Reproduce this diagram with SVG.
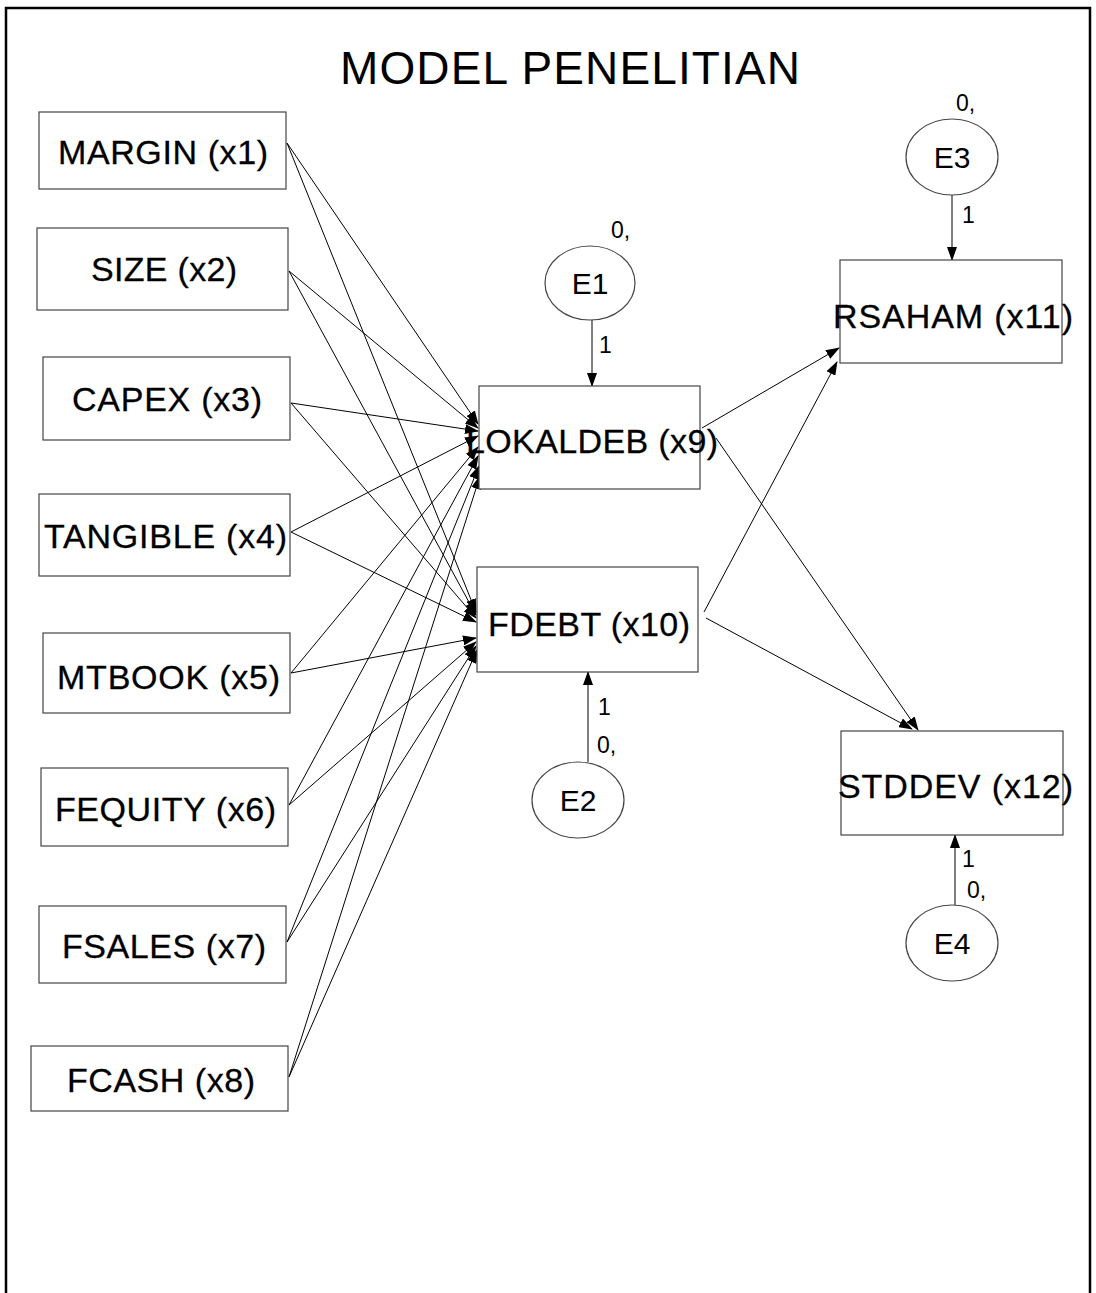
<svg xmlns="http://www.w3.org/2000/svg" width="1096" height="1293" viewBox="0 0 1096 1293">
  <defs>
    <marker id="arrow" markerUnits="userSpaceOnUse" markerWidth="14" markerHeight="10" refX="13" refY="5" orient="auto">
      <path d="M0,0 L14,5 L0,10 Z" fill="#000"/>
    </marker>
  </defs>
  <style>
    .frame { fill: none; stroke: #000; stroke-width: 2.5; }
    .box { fill: #fff; stroke: #444; stroke-width: 1.2; }
    .err { fill: #fff; stroke: #444; stroke-width: 1.2; }
    .lbl { font-family: "Liberation Sans", Arial, sans-serif; font-size: 34px; fill: #000; stroke: #000; stroke-width: 0.3; }
    .elbl { font-family: "Liberation Sans", Arial, sans-serif; font-size: 30px; fill: #000; text-anchor: middle; }
    .small { font-family: "Liberation Sans", Arial, sans-serif; font-size: 23px; fill: #000; }
    .title { font-family: "Liberation Sans", Arial, sans-serif; font-size: 46px; fill: #000; }
    .path { fill: none; stroke: #000; stroke-width: 1; marker-end: url(#arrow); }
  </style>

  <rect width="1096" height="1293" fill="#fff"/>
  <!-- page frame (open at the bottom) -->
  <path class="frame" d="M6,1293 V8 H1090 V1293"/>

  <text class="title" x="340" y="84" textLength="460">MODEL PENELITIAN</text>

  <!-- connectors -->
  <g id="connectors">
    <!-- exogenous variables to LOKALDEB -->
    <line class="path" x1="287" y1="143" x2="478" y2="424"/>
    <line class="path" x1="289" y1="271" x2="478" y2="428"/>
    <line class="path" x1="291" y1="403" x2="478" y2="431"/>
    <line class="path" x1="291" y1="532" x2="478" y2="436"/>
    <line class="path" x1="291" y1="673" x2="478" y2="447"/>
    <line class="path" x1="289" y1="805" x2="478" y2="456"/>
    <line class="path" x1="287" y1="942" x2="479" y2="466"/>
    <line class="path" x1="289" y1="1077" x2="480" y2="476"/>
    <!-- exogenous variables to FDEBT -->
    <line class="path" x1="287" y1="143" x2="476" y2="612"/>
    <line class="path" x1="289" y1="271" x2="476" y2="615"/>
    <line class="path" x1="291" y1="403" x2="476" y2="618"/>
    <line class="path" x1="291" y1="532" x2="476" y2="622"/>
    <line class="path" x1="291" y1="673" x2="476" y2="638"/>
    <line class="path" x1="289" y1="805" x2="476" y2="642"/>
    <line class="path" x1="287" y1="942" x2="476" y2="646"/>
    <line class="path" x1="289" y1="1077" x2="477" y2="650"/>
    <!-- mediators to outcomes -->
    <line class="path" x1="702" y1="428" x2="839" y2="348"/>
    <line class="path" x1="704" y1="612" x2="837" y2="362"/>
    <line class="path" x1="716" y1="438" x2="918" y2="730"/>
    <line class="path" x1="706" y1="618" x2="912" y2="729"/>
    <!-- error terms -->
    <line class="path" x1="592" y1="320" x2="592" y2="386"/>
    <line class="path" x1="588" y1="762" x2="588" y2="672"/>
    <line class="path" x1="952" y1="195" x2="952" y2="260"/>
    <line class="path" x1="955" y1="905" x2="955" y2="835"/>
  </g>

  <!-- observed variables -->
  <g id="margin"><rect class="box" x="39" y="112" width="247" height="77"/><text class="lbl" x="58" y="164" textLength="210">MARGIN (x1)</text></g>
  <g id="size"><rect class="box" x="37" y="228" width="251" height="82"/><text class="lbl" x="91" y="281" textLength="146">SIZE (x2)</text></g>
  <g id="capex"><rect class="box" x="43" y="357" width="247" height="83"/><text class="lbl" x="72" y="411" textLength="190">CAPEX (x3)</text></g>
  <g id="tangible"><rect class="box" x="39" y="494" width="251" height="82"/><text class="lbl" x="44" y="548" textLength="243">TANGIBLE (x4)</text></g>
  <g id="mtbook"><rect class="box" x="43" y="633" width="247" height="80"/><text class="lbl" x="57" y="689" textLength="223">MTBOOK (x5)</text></g>
  <g id="fequity"><rect class="box" x="41" y="768" width="247" height="78"/><text class="lbl" x="55" y="821" textLength="221">FEQUITY (x6)</text></g>
  <g id="fsales"><rect class="box" x="39" y="906" width="247" height="77"/><text class="lbl" x="62" y="958" textLength="204">FSALES (x7)</text></g>
  <g id="fcash"><rect class="box" x="31" y="1046" width="257" height="65"/><text class="lbl" x="67" y="1092" textLength="188">FCASH (x8)</text></g>

  <g id="lokaldeb"><rect class="box" x="479" y="386" width="221" height="103"/><text class="lbl" x="466" y="453" textLength="252">LOKALDEB (x9)</text></g>
  <g id="fdebt"><rect class="box" x="477" y="567" width="221" height="105"/><text class="lbl" x="488" y="636" textLength="202">FDEBT (x10)</text></g>
  <g id="rsaham"><rect class="box" x="840" y="260" width="222" height="103"/><text class="lbl" x="833" y="328" textLength="240">RSAHAM (x11)</text></g>
  <g id="stddev"><rect class="box" x="841" y="731" width="222" height="104"/><text class="lbl" x="838" y="798" textLength="235">STDDEV (x12)</text></g>

  <!-- error terms -->
  <g id="e1">
    <ellipse class="err" cx="590" cy="283" rx="45" ry="37"/>
    <text class="elbl" x="590" y="294">E1</text>
    <text class="small" x="611" y="238">0,</text>
    <text class="small" x="599" y="353">1</text>
  </g>
  <g id="e2">
    <ellipse class="err" cx="578" cy="800" rx="46" ry="38"/>
    <text class="elbl" x="578" y="811">E2</text>
    <text class="small" x="598" y="715">1</text>
    <text class="small" x="597" y="753">0,</text>
  </g>
  <g id="e3">
    <ellipse class="err" cx="952" cy="157" rx="46" ry="38"/>
    <text class="elbl" x="952" y="168">E3</text>
    <text class="small" x="956" y="111">0,</text>
    <text class="small" x="962" y="223">1</text>
  </g>
  <g id="e4">
    <ellipse class="err" cx="952" cy="943" rx="46" ry="38"/>
    <text class="elbl" x="952" y="954">E4</text>
    <text class="small" x="962" y="867">1</text>
    <text class="small" x="967" y="898">0,</text>
  </g>
</svg>
